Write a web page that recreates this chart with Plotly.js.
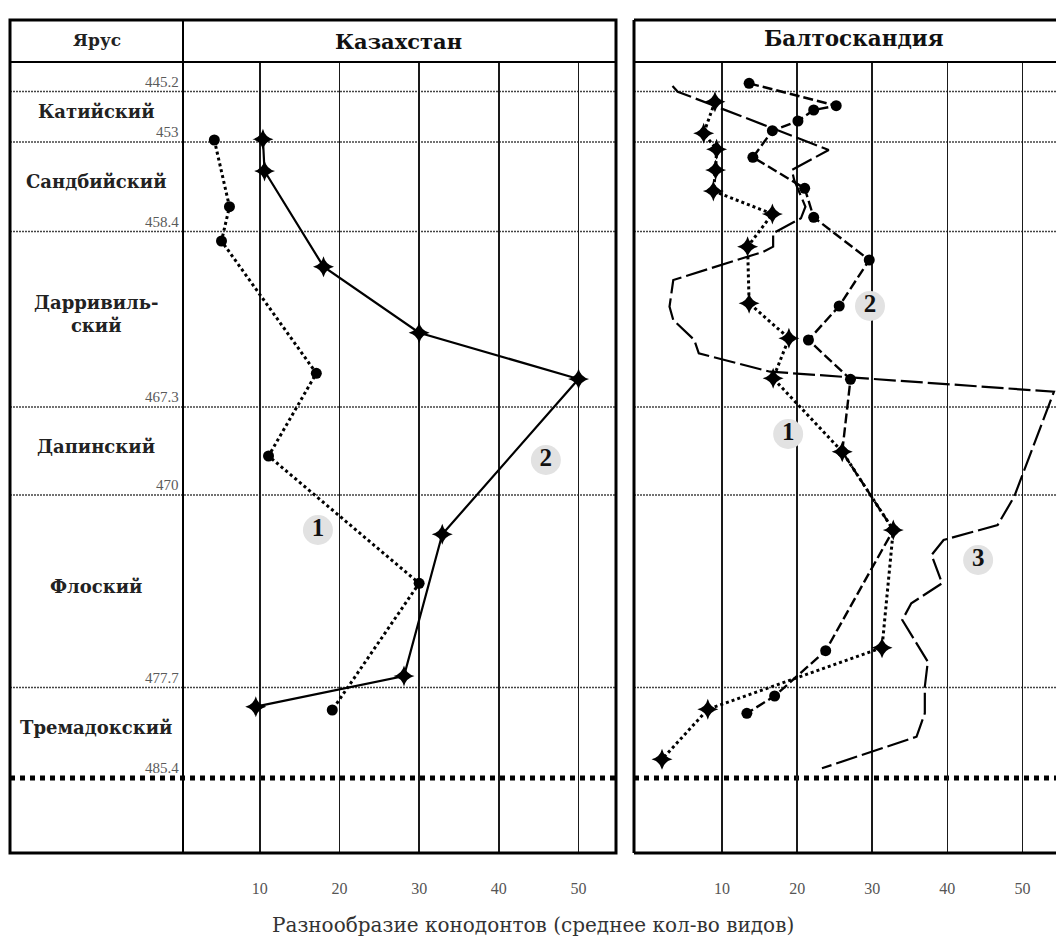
<!DOCTYPE html>
<html><head><meta charset="utf-8">
<script src="https://cdn.plot.ly/plotly-3.0.1.min.js"></script>
<style>html,body{margin:0;padding:0;background:#fff;}#chart{width:1056px;height:946px;}</style>
</head><body><div id="chart"></div>
<script>
// ---------- data ----------
const stageNames = ['Катийский', 'Сандбийский', 'Дарривиль-<br>ский', 'Дапинский', 'Флоский', 'Тремадокский'];
const boundaryAges = ['445.2', '453', '458.4', '467.3', '470', '477.7', '485.4'];
const boundaryLevels = [2.95, 8.0, 16.95, 34.5, 43.3, 62.55, 71.6];
const xTicks = [10, 20, 30, 40, 50];
const xTickText = ['10', '20', '30', '40', '50'];

// Казахстан
const kz1X = [4.3, 6.2, 5.2, 17.1, 11.1, 30.0, 19.1];
const kz1Y = [7.8, 14.47, 17.9, 31.13, 39.4, 52.13, 64.8];
const kz2X = [10.4, 10.6, 18.0, 30.0, 50.0, 32.9, 28.1, 9.5];
const kz2Y = [7.73, 10.9, 20.47, 27.07, 31.7, 47.23, 61.4, 64.47];

// Балтоскандия
const bs1X = [9.05, 7.55, 9.27, 9.14, 8.84, 16.7, 13.4, 13.6, 18.9, 16.8, 26.0, 32.8, 31.3, 8.1, 2.0];
const bs1Y = [3.97, 7.13, 8.73, 10.8, 12.9, 15.2, 18.47, 24.13, 27.63, 31.63, 38.97, 46.8, 58.57, 64.73, 69.73];
const bs2X = [13.6, 25.2, 22.2, 20.1, 16.7, 14.1, 21.0, 22.2, 29.6, 25.6, 21.5, 27.1, 26.0, 32.8, 23.8, 17.0, 13.3];
const bs2Y = [2.13, 4.37, 4.8, 5.9, 6.87, 9.53, 12.63, 15.53, 19.8, 24.4, 27.8, 31.73, 38.97, 46.8, 58.87, 63.4, 65.13];
const bs3X = [3.4, 4.1, 24.2, 19.3, 19.6, 21.1, 20.5, 16.8, 16.8, 15.5, 3.5, 3.0, 3.5, 6.3, 6.9, 16.4, 54.2, 48.9, 46.7, 39.5, 37.9, 39.3, 35.2, 34.0, 37.4, 37.0, 37.0, 35.9, 23.3];
const bs3Y = [2.4, 2.97, 8.8, 10.8, 11.8, 14.47, 15.63, 17.13, 18.47, 18.97, 21.8, 24.47, 25.8, 27.8, 29.13, 30.97, 32.97, 43.47, 46.3, 47.8, 49.3, 52.13, 54.13, 55.8, 59.97, 62.47, 65.13, 67.47, 70.63];

// curve number labels
const kzLabels = ['1', '2'];
const kzLabelX = [17.3, 45.9];
const kzLabelY = [46.8, 39.8];
const bsLabels = ['2', '1', '3'];
const bsLabelX = [29.7, 18.8, 44.1];
const bsLabelY = [24.4, 37.2, 49.8];

// ---------- layout geometry ----------
const W = 1056, H = 946, ML = 10, MR = 0, MT = 20, MB = 93;
const PW = W - ML - MR, PH = H - MT - MB;
const pxX = px => (px - ML) / PW;
const pxY = py => (H - MB - py) / PH;

const serif = 'Liberation Serif, Times New Roman, serif';
const serifWide = 'DejaVu Serif, serif';

const star = {symbol: 'star-diamond', size: 15, color: '#000'};
const dot = {symbol: 'circle', size: 11, color: '#000'};

const traces = [
  {x: kz1X, y: kz1Y, xaxis: 'x', yaxis: 'y', mode: 'lines+markers',
   line: {color: '#000', width: 3, dash: 'dot'}, marker: dot},
  {x: kz2X, y: kz2Y, xaxis: 'x', yaxis: 'y', mode: 'lines+markers',
   line: {color: '#000', width: 2.2}, marker: star},
  {x: bs3X, y: bs3Y, xaxis: 'x2', yaxis: 'y', mode: 'lines',
   line: {color: '#000', width: 2.2, dash: '22px,5px'}},
  {x: bs2X, y: bs2Y, xaxis: 'x2', yaxis: 'y', mode: 'lines+markers',
   line: {color: '#000', width: 2.4, dash: '10px,4px'}, marker: dot},
  {x: bs1X, y: bs1Y, xaxis: 'x2', yaxis: 'y', mode: 'lines+markers',
   line: {color: '#000', width: 3, dash: 'dot'}, marker: star},
  {x: kzLabelX, y: kzLabelY, xaxis: 'x', yaxis: 'y', mode: 'markers+text',
   text: kzLabels.map(t => '<b>' + t + '</b>'), textposition: 'middle center',
   marker: {size: 30, color: '#e2e2e2'}, textfont: {family: serif, size: 25, color: '#111'}},
  {x: bsLabelX, y: bsLabelY, xaxis: 'x2', yaxis: 'y', mode: 'markers+text',
   text: bsLabels.map(t => '<b>' + t + '</b>'), textposition: 'middle center',
   marker: {size: 30, color: '#e2e2e2'}, textfont: {family: serif, size: 25, color: '#111'}}
];

const shapes = [];
const annotations = [];
const leftL = 0, leftR = pxX(616), rightL = pxX(634), rightR = 1;

boundaryLevels.forEach((lv, i) => {
  const last = i === boundaryLevels.length - 1;
  const ln = last ? {color: '#000', width: 5, dash: '5px,5px'} : {color: '#444', width: 1.6, dash: '2px,1px'};
  shapes.push({type: 'line', xref: 'paper', yref: 'y', x0: leftL, x1: leftR, y0: lv, y1: lv, line: ln, layer: 'below'});
  shapes.push({type: 'line', xref: 'paper', yref: 'y', x0: rightL, x1: rightR, y0: lv, y1: lv, line: ln, layer: 'below'});
  annotations.push({xref: 'paper', yref: 'y', x: pxX(181), y: lv, xanchor: 'right', yanchor: 'bottom',
    text: boundaryAges[i], showarrow: false, yshift: 0, font: {family: serif, size: 15, color: '#5a5a5a'}});
});

stageNames.forEach((nm, i) => {
  const mid = (boundaryLevels[i] + boundaryLevels[i + 1]) / 2 - 0.5;
  annotations.push({xref: 'paper', yref: 'y', x: pxX(96), y: mid, xanchor: 'center', yanchor: 'middle',
    text: '<b>' + nm + '</b>', showarrow: false, font: {family: serifWide, size: 18, color: '#222'}});
});

const headBot = pxY(62);
// frames
shapes.push({type: 'rect', xref: 'paper', yref: 'paper', x0: leftL, x1: leftR, y0: 0, y1: 1, line: {color: '#000', width: 3}});
shapes.push({type: 'line', xref: 'paper', yref: 'paper', x0: leftL, x1: leftR, y0: headBot, y1: headBot, line: {color: '#000', width: 2}});
shapes.push({type: 'line', xref: 'paper', yref: 'paper', x0: pxX(183), x1: pxX(183), y0: 0, y1: 1, line: {color: '#000', width: 2}});
shapes.push({type: 'line', xref: 'paper', yref: 'paper', x0: rightL, x1: rightL, y0: 0, y1: 1, line: {color: '#000', width: 3}});
shapes.push({type: 'line', xref: 'paper', yref: 'paper', x0: rightL, x1: rightR, y0: 1, y1: 1, line: {color: '#000', width: 3}});
shapes.push({type: 'line', xref: 'paper', yref: 'paper', x0: rightL, x1: rightR, y0: 0, y1: 0, line: {color: '#000', width: 3}});
shapes.push({type: 'line', xref: 'paper', yref: 'paper', x0: rightL, x1: rightR, y0: headBot, y1: headBot, line: {color: '#000', width: 2}});

const centered = {showarrow: false, xanchor: 'center', yanchor: 'middle', xref: 'paper', yref: 'paper'};
annotations.push(Object.assign({}, centered, {x: pxX(97), y: pxY(40), text: '<b>Ярус</b>',
  font: {family: serifWide, size: 17, color: '#222'}}));
annotations.push(Object.assign({}, centered, {x: pxX(398), y: pxY(41), text: '<b>Казахстан</b>',
  font: {family: serifWide, size: 21, color: '#111'}}));
annotations.push(Object.assign({}, centered, {x: pxX(854), y: pxY(38), text: '<b>Балтоскандия</b>',
  font: {family: serifWide, size: 21.5, color: '#111'}}));
annotations.push(Object.assign({}, centered, {x: pxX(533), y: pxY(925), text: 'Разнообразие конодонтов (среднее кол-во видов)',
  font: {family: serifWide, size: 20, color: '#333'}}));

const xCommon = {
  tickmode: 'array', tickvals: xTicks, ticktext: xTickText,
  showgrid: true, gridcolor: '#1a1a1a', gridwidth: 1.6, zeroline: false, showline: false,
  ticks: '', ticklabelstandoff: 24, tickfont: {family: serif, size: 16, color: '#555'}, fixedrange: true
};

const layout = {
  width: W, height: H, margin: {l: ML, r: MR, t: MT, b: MB},
  paper_bgcolor: '#fff', plot_bgcolor: '#fff', showlegend: false, hovermode: false,
  xaxis: Object.assign({}, xCommon, {domain: [pxX(183), pxX(616)], range: [0.37, 54.7], anchor: 'y'}),
  xaxis2: Object.assign({}, xCommon, {domain: [pxX(634), 1], range: [-1.73, 54.47], anchor: 'y'}),
  yaxis: {domain: [0, headBot], range: [79.1, 0], showgrid: false, zeroline: false, showticklabels: false,
    ticks: '', showline: false, fixedrange: true},
  shapes: shapes, annotations: annotations
};

Plotly.newPlot('chart', traces, layout, {staticPlot: true, displayModeBar: false});
</script></body></html>
